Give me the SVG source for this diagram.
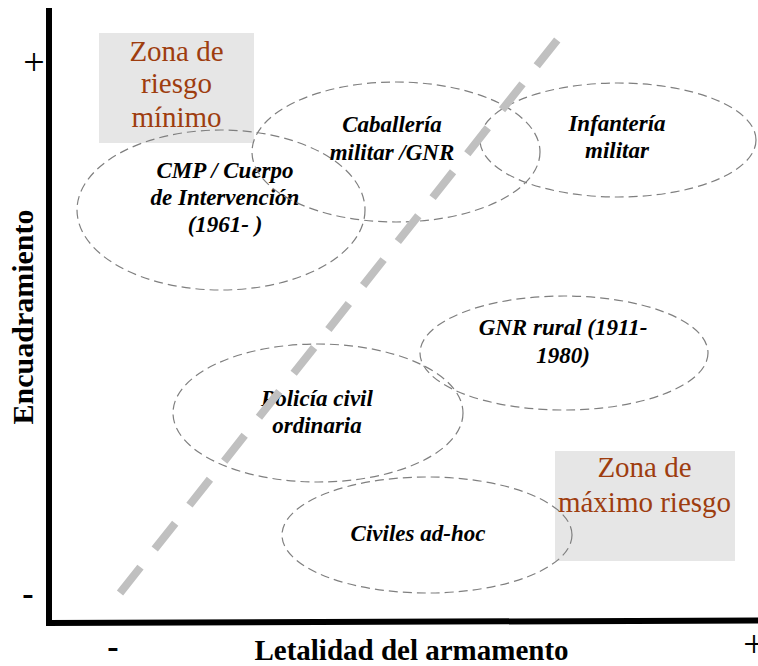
<svg xmlns="http://www.w3.org/2000/svg" width="758" height="666" viewBox="0 0 758 666">
<style>
.ell{fill:none;stroke:#7f7f7f;stroke-width:1.2;stroke-dasharray:9 5}
.lbl{font-family:"Liberation Serif","Times New Roman",serif;font-weight:bold;font-style:italic;font-size:23px;fill:#000;text-anchor:middle}
.zone{fill:#e6e6e6}
.ztxt{font-family:"Liberation Serif","Times New Roman",serif;font-size:29px;fill:#9e3d0f;text-anchor:middle}
.ax{font-family:"Liberation Serif","Times New Roman",serif;font-weight:bold;fill:#000;text-anchor:middle}
.tick{font-family:"Liberation Serif","Times New Roman",serif;fill:#000;text-anchor:middle}
</style>
<rect width="758" height="666" fill="#fff"/>
<g id="zona-minimo">
<rect class="zone" x="99" y="33" width="155" height="110"/>
<text class="ztxt" x="176.5" y="61">Zona de</text>
<text class="ztxt" x="176.5" y="93">riesgo</text>
<text class="ztxt" x="176.5" y="127">mínimo</text>
</g>
<g id="zona-maximo">
<rect class="zone" x="555" y="451" width="180" height="110"/>
<text class="ztxt" x="644.5" y="477">Zona de</text>
<text class="ztxt" x="644.5" y="512">máximo riesgo</text>
</g>
<g id="axes">
<line x1="49" y1="8" x2="49" y2="626" stroke="#000" stroke-width="6"/>
<line x1="46" y1="623" x2="758" y2="620.5" stroke="#000" stroke-width="6"/>
<text class="tick" x="34" y="75" font-size="38">+</text>
<text class="tick" x="754" y="657" font-size="38">+</text>
<text class="tick" x="28" y="605" font-size="34" font-weight="bold">-</text>
<text class="tick" x="113" y="658" font-size="34" font-weight="bold">-</text>
<text class="ax" x="411.5" y="660" font-size="29">Letalidad del armamento</text>
<text class="ax" font-size="30" transform="translate(33,317) rotate(-90)">Encuadramiento</text>
</g>
<g id="cmp">
<ellipse class="ell" cx="221" cy="210" rx="144" ry="80"/>
<text class="lbl" x="225" y="178">CMP / Cuerpo</text>
<text class="lbl" x="225" y="205">de Intervención</text>
<text class="lbl" x="225" y="232">(1961- )</text>
</g>
<g id="caballeria">
<ellipse class="ell" cx="396" cy="152" rx="144" ry="70"/>
<text class="lbl" x="392" y="132">Caballería</text>
<text class="lbl" x="392" y="160">militar /GNR</text>
</g>
<g id="infanteria">
<ellipse class="ell" cx="618" cy="140" rx="138" ry="57"/>
<text class="lbl" x="617" y="131">Infantería</text>
<text class="lbl" x="617" y="158">militar</text>
</g>
<g id="gnr-rural">
<ellipse class="ell" cx="564" cy="353" rx="144" ry="57"/>
<text class="lbl" x="563" y="335">GNR rural (1911-</text>
<text class="lbl" x="563" y="363">1980)</text>
</g>
<g id="policia">
<ellipse class="ell" cx="318" cy="413" rx="145" ry="69"/>
<text class="lbl" x="317" y="406">Policía civil</text>
<text class="lbl" x="317" y="433">ordinaria</text>
</g>
<g id="civiles">
<ellipse class="ell" cx="427" cy="535" rx="145" ry="58"/>
<text class="lbl" x="418" y="541">Civiles ad-hoc</text>
</g>
<g id="connectors">
<line x1="120" y1="593" x2="558" y2="39" stroke="#c0c0c0" stroke-width="8" stroke-dasharray="33 23"/>
</g>
</svg>
